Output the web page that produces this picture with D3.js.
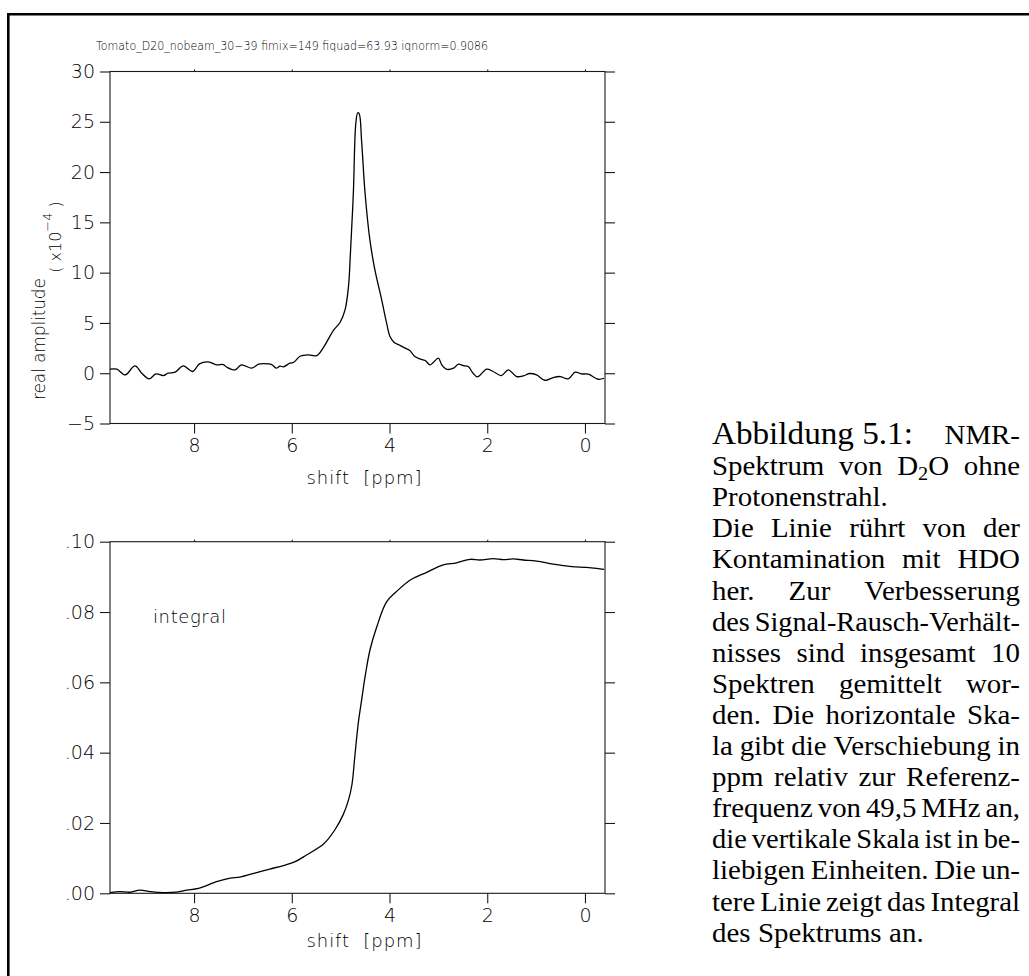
<!DOCTYPE html>
<html><head><meta charset="utf-8">
<script src="https://cdn.jsdelivr.net/npm/d3@7"></script>
<style>body{margin:0;background:#fff;} svg{display:block}</style>
</head><body><svg id="c" width="1029" height="976"></svg>
<script>
// ---- data ----
const specPpm = [9.72,9.58,9.41,9.21,9.07,8.92,8.78,8.63,8.53,8.39,8.22,8.03,7.89,7.71,7.54,7.40,7.33,7.16,7.03,6.82,6.68,6.58,6.41,6.32,6.24,6.17,6.04,5.96,5.83,5.66,5.49,5.35,5.15,5.01,4.91,4.84,4.80,4.74,4.69,4.65,4.62,4.57,4.50,4.40,4.30,4.16,4.06,3.99,3.91,3.79,3.68,3.59,3.48,3.38,3.27,3.17,3.10,3.00,2.93,2.84,2.69,2.59,2.49,2.39,2.29,2.20,2.01,1.88,1.71,1.57,1.40,1.26,1.13,0.99,0.82,0.65,0.51,0.34,0.20,0.07,-0.07,-0.27,-0.39];
const specAmp = [0.4,0.4,-0.17,0.73,0,-0.56,-0.07,-0.23,0,0.1,0.73,0.17,0.93,1.13,0.83,0.86,0.6,0.33,0.83,0.5,0.9,0.96,0.86,0.5,0.7,0.63,1.0,1.09,1.69,1.82,1.75,2.58,4.24,5.07,6.29,8.6,11.9,17.9,24.8,25.9,25.8,23.0,17.9,13.2,10.3,7.3,5.0,3.64,3.08,2.78,2.5,2.28,1.66,1.42,1.26,0.83,1.09,1.49,0.83,0.4,0.5,0.9,0.76,0.66,0,-0.36,0.4,0.17,-0.23,0.33,-0.33,-0.26,-0.03,-0.17,-0.7,-0.43,-0.33,-0.56,0.1,-0.07,-0.1,-0.6,-0.5];
const intPpm = [9.72,9.52,9.31,9.11,8.90,8.63,8.32,8.15,7.91,7.54,7.26,7.06,6.72,6.45,6.17,5.93,5.70,5.35,5.12,4.95,4.84,4.77,4.71,4.64,4.57,4.50,4.40,4.26,4.06,3.82,3.55,3.24,2.90,2.63,2.35,2.15,1.88,1.67,1.47,1.26,0.99,0.65,0.27,-0.03,-0.24,-0.39];
const intVal = [0.0002,0.0005,0.0003,0.0009,0.0005,0.0002,0.0004,0.0009,0.0014,0.0033,0.0043,0.0046,0.0059,0.0069,0.0079,0.0090,0.0109,0.0140,0.0180,0.0223,0.0265,0.0308,0.0389,0.0483,0.0550,0.0616,0.0692,0.0758,0.0829,0.0863,0.0893,0.0913,0.0934,0.0940,0.0950,0.0948,0.0952,0.0949,0.0951,0.0948,0.0945,0.0936,0.0929,0.0927,0.0924,0.0921];
const xDomain = [9.72, -0.41];
const xTicks = [8,6,4,2,0];
const specTicks = [-5,0,5,10,15,20,25,30];
const intTicks = [0,0.02,0.04,0.06,0.08,0.10];
const intTickLabels = [".00",".02",".04",".06",".08",".10"];
const titleText = "Tomato_D20_nobeam_30\u221239  fimix=149  fiquad=63.93  iqnorm=0.9086";
const xLabel = "shift  [ppm]";
const yLabel = "real amplitude";
const integralLabel = "integral";
const captionLines = [
  "Abbildung\u00a05.1: NMR-",
  "Spektrum von D\u2082O ohne",
  "Protonenstrahl.",
  "Die Linie rührt von der",
  "Kontamination mit HDO",
  "her. Zur Verbesserung",
  "des Signal-Rausch-Verhält-",
  "nisses sind insgesamt 10",
  "Spektren gemittelt wor-",
  "den. Die horizontale Ska-",
  "la gibt die Verschiebung in",
  "ppm relativ zur Referenz-",
  "frequenz von 49,5 MHz an,",
  "die vertikale Skala ist in be-",
  "liebigen Einheiten. Die un-",
  "tere Linie zeigt das Integral",
  "des Spektrums an."
];
const captionRagged = [2, 16];

// ---- drawing ----
const svg = d3.select("#c");
const SANS = "'DejaVu Sans', 'Liberation Sans', sans-serif";
const SERIF = "'Liberation Serif', 'Times New Roman', serif";
const INK = "#000";

// page border (top and left)
svg.append("path").attr("d","M8.3,976 L8.3,14.3 L1029,14.3")
  .attr("fill","none").attr("stroke","#000").attr("stroke-width",2.6);

const L = 110, R = 605;
const x = d3.scaleLinear().domain(xDomain).range([L, R]);

function panel(top, bottom, yDom, ticks, fmt, xs, ys) {
  const y = d3.scaleLinear().domain(yDom).range([bottom, top]);
  const g = svg.append("g");
  const styleAxis = sel => {
    sel.select(".domain").remove();
    sel.selectAll(".tick line").attr("stroke", "#1a1a1a").attr("stroke-width", 1.1);
    sel.selectAll(".tick text").attr("font-family", SANS).attr("font-size", 19)
      .attr("fill", INK).attr("font-weight", 200);
  };
  g.append("g").attr("transform", `translate(${L},0)`)
    .call(d3.axisLeft(y).tickValues(ticks).tickSize(10).tickPadding(5).tickFormat(fmt)).call(styleAxis);
  g.append("g").attr("transform", `translate(${R},0)`)
    .call(d3.axisRight(y).tickValues(ticks).tickSize(10).tickFormat("")).call(styleAxis);
  g.append("g").attr("transform", `translate(0,${bottom})`)
    .call(d3.axisBottom(x).tickValues(xTicks).tickSize(10).tickPadding(5).tickFormat(d3.format("d"))).call(styleAxis);
  g.append("g").attr("transform", `translate(0,${top})`)
    .call(d3.axisTop(x).tickValues(xTicks).tickSize(2).tickFormat("")).call(styleAxis);
  g.append("rect").attr("x", L).attr("y", top).attr("width", R - L).attr("height", bottom - top)
    .attr("fill", "none").attr("stroke", "#1a1a1a").attr("stroke-width", 1.1);
  const line = d3.line().x(d => x(d[0])).y(d => y(d[1])).curve(d3.curveCatmullRom.alpha(0.5));
  g.append("path").datum(d3.zip(xs, ys)).attr("d", line)
    .attr("fill", "none").attr("stroke", "#000").attr("stroke-width", 1.3);
  return y;
}

panel(71.5, 423.5, [-5, 30], specTicks, d => d < 0 ? "\u2212" + Math.abs(d) : String(d), specPpm, specAmp);
panel(541.7, 893.3, [0, 0.1], intTicks, (d, i) => intTickLabels[i], intPpm, intVal);

const txt = (xx, yy, s, size, anchor) => svg.append("text").attr("x", xx).attr("y", yy)
  .attr("font-family", SANS).attr("font-size", size).attr("font-weight", 200)
  .attr("fill", INK).attr("text-anchor", anchor || "middle").text(s);

txt(292, 50, titleText, 12.5).attr("textLength", 392).attr("lengthAdjust", "spacingAndGlyphs");
txt(364, 484, xLabel, 18).attr("xml:space", "preserve").attr("textLength", 115);
txt(364, 947, xLabel, 18).attr("xml:space", "preserve").attr("textLength", 115);
txt(153, 623, integralLabel, 18, "start").attr("textLength", 73);

svg.append("text").attr("transform", "translate(45,339) rotate(-90)")
  .attr("font-family", SANS).attr("font-size", 17).attr("font-weight", 200).attr("fill", INK)
  .attr("text-anchor", "middle").attr("textLength", 122).text(yLabel);
const ex = svg.append("text").attr("transform", "translate(61,237) rotate(-90)")
  .attr("font-family", SANS).attr("font-size", 16).attr("font-weight", 200).attr("fill", INK)
  .attr("text-anchor", "middle");
ex.append("tspan").text("( x10");
ex.append("tspan").attr("dy", -9).attr("font-size", 13).text("\u22124");
ex.append("tspan").attr("dy", 9).text(" )");

// caption
const cap = svg.append("g");
const cx0 = 712, cx1 = 1020, cy0 = 444, cdy = 31.1, csize = 27, stretch = 1.07;
captionLines.forEach((line, i) => {
  const words = line.split(" ");
  const yy = cy0 + i * cdy;
  const nodes = words.map(w => {
    const t = cap.append("text").attr("y", yy).attr("font-family", SERIF)
      .attr("font-size", csize).attr("fill", "#000").attr("xml:space", "preserve");
    if (i === 0 && w.startsWith("Abbildung")) t.attr("font-size", 31);
    if (w.includes("\u2082")) {
      const p = w.split("\u2082");
      t.append("tspan").text(p[0]);
      t.append("tspan").attr("font-size", 19).attr("dy", 5).text("2");
      t.append("tspan").attr("dy", -5).text(p[1]);
    } else t.text(w);
    return t;
  });
  const widths = nodes.map(n => n.node().getComputedTextLength() * stretch);
  const sum = d3.sum(widths);
  const n = words.length;
  const target = cx1 - cx0;
  let gap = 7.5, scale = 1;
  if (!captionRagged.includes(i) && n > 1) {
    gap = (target - sum) / (n - 1);
    if (gap < 5) { gap = 5; scale = (target - gap * (n - 1)) / sum; }
  }
  let cur = cx0;
  nodes.forEach((t, k) => {
    t.attr("x", cur).attr("textLength", widths[k] * scale).attr("lengthAdjust", "spacingAndGlyphs");
    cur += widths[k] * scale + gap;
  });
});
</script>
</body></html>
